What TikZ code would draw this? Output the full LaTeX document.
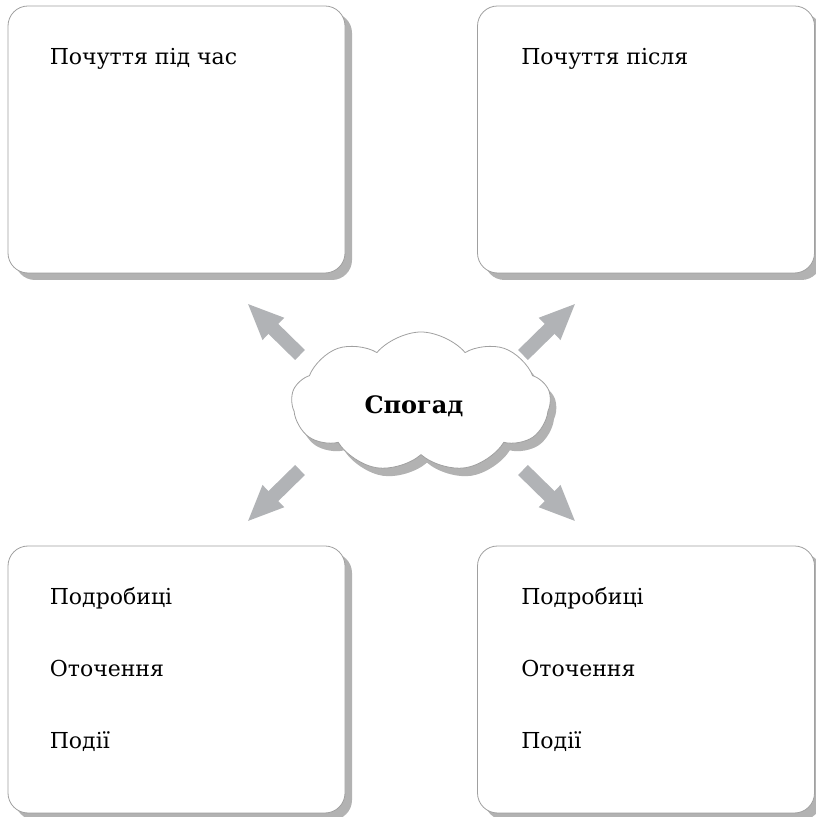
\documentclass[tikz,border=0pt]{standalone}
\usepackage{fontspec}
\setmainfont{DejaVu Serif}
\usetikzlibrary{arrows.meta,shapes.symbols,shadows,calc}
\definecolor{arrowgray}{RGB}{177,179,182}
\definecolor{edgegray}{RGB}{160,160,160}

\begin{document}
\begin{tikzpicture}[line cap=round,line join=round,x=1pt,y=1pt,
		box/.style={draw=edgegray,line width=0.8pt,rounded corners=20pt,fill=white,minimum width=337pt,minimum height=267pt,inner sep=0pt,
			drop shadow={shadow xshift=7pt,shadow yshift=-7pt,fill=black!30,opacity=1}},
		boxtext/.style={anchor=base west,inner sep=0pt,font=\fontsize{22}{26}\selectfont},
		bigarrow/.style={draw=arrowgray,line width=14pt,line cap=butt,-{Triangle[width=28pt,length=37pt]}}]
	\useasboundingbox (0,0) rectangle (816,817);
	\node [box] (tl) at (176.5,677.5) {};
	\node [box] (tr) at (646,677.5) {};
	\node [box] (bl) at (176.5,137.5) {};
	\node [box] (br) at (646,137.5) {};
	\node [cloud,cloud puffs=9,cloud puff arc=100,aspect=1.9,draw=edgegray,line width=0.8pt,fill=white,minimum width=259pt,minimum height=140pt,inner sep=0pt,
		drop shadow={shadow xshift=6pt,shadow yshift=-8pt,fill=black!30,opacity=1}] (memory) at (421,415) {};
	\node [inner sep=0pt,font=\fontsize{24}{28}\selectfont\bfseries] (memorytext) at (414,411) {Спогад};
	\node [boxtext] (tlline) at ($(tl.north west)+(42,-59)$) {Почуття під час};
	\node [boxtext] (trline) at ($(tr.north west)+(44,-59)$) {Почуття після};
	\node [boxtext] (bldetails) at ($(bl.north west)+(42,-59)$) {Подробиці};
	\node [boxtext] (blsurround) at ($(bl.north west)+(42,-131)$) {Оточення};
	\node [boxtext] (blevents) at ($(bl.north west)+(42,-203)$) {Події};
	\node [boxtext] (brdetails) at ($(br.north west)+(44,-59)$) {Подробиці};
	\node [boxtext] (brsurround) at ($(br.north west)+(44,-131)$) {Оточення};
	\node [boxtext] (brevents) at ($(br.north west)+(44,-203)$) {Події};
	\coordinate (tltail) at (300,462);
	\coordinate (tltip) at (247,514);
	\coordinate (trtail) at (523,462);
	\coordinate (trtip) at (576,514);
	\coordinate (bltail) at (300,347);
	\coordinate (bltip) at (247,295);
	\coordinate (brtail) at (523,347);
	\coordinate (brtip) at (576,295);
	\draw [bigarrow] (tltail) -- (tltip);
	\draw [bigarrow] (trtail) -- (trtip);
	\draw [bigarrow] (bltail) -- (bltip);
	\draw [bigarrow] (brtail) -- (brtip);
\end{tikzpicture}
\end{document}
